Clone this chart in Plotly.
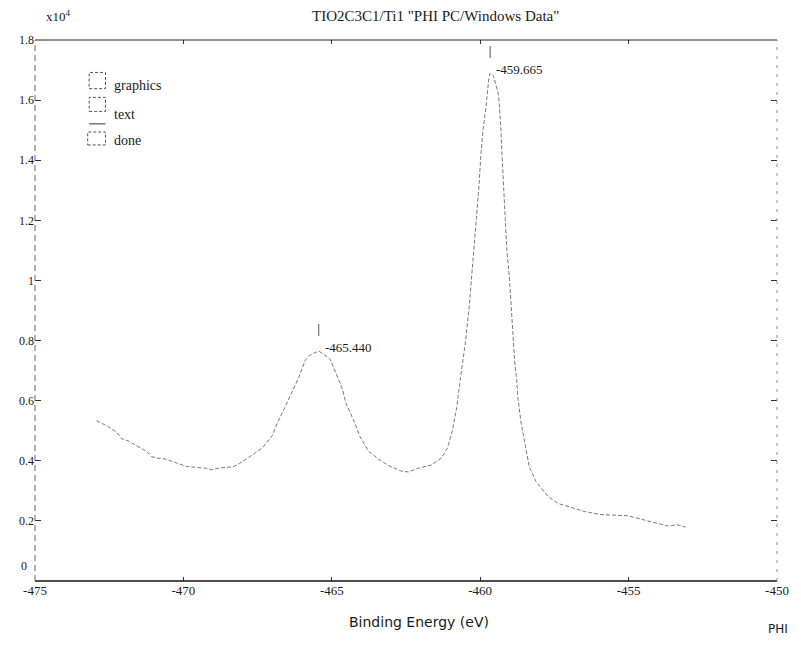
import plotly.graph_objects as go

# Ti 2p region scan: binding energy (eV) vs counts (x10^4)
binding_energy = [
    -472.93, -472.59, -472.26, -472.08, -471.86, -471.52, -471.24, -471.07,
    -470.90, -470.62, -470.23, -469.89, -469.56, -469.22, -469.05, -468.78,
    -468.33, -468.11, -467.67, -467.34, -467.01, -466.80, -466.58, -466.32,
    -466.10, -465.89, -465.73, -465.44, -465.28, -465.05, -464.82, -464.64,
    -464.53, -464.23, -464.06, -463.77, -463.43, -463.09, -462.64, -462.42,
    -462.09, -461.64, -461.31, -461.10, -460.94, -460.79, -460.69, -460.59,
    -460.49, -460.37, -460.27, -460.21, -460.12, -460.05, -459.97, -459.90,
    -459.81, -459.76, -459.71, -459.665, -459.55, -459.38, -459.31, -459.26,
    -459.17, -459.10, -459.02, -458.95, -458.90, -458.84, -458.77, -458.73,
    -458.63, -458.47, -458.35, -458.12, -457.72, -457.38, -456.93, -456.48,
    -455.93, -455.48, -455.03, -454.59, -454.13, -453.69, -453.35, -453.08,
]
intensity = [
    0.533, 0.517, 0.496, 0.474, 0.466, 0.447, 0.431, 0.414,
    0.409, 0.406, 0.393, 0.381, 0.378, 0.375, 0.370, 0.376,
    0.380, 0.391, 0.420, 0.443, 0.483, 0.533, 0.578, 0.635,
    0.680, 0.736, 0.752, 0.765, 0.755, 0.737, 0.682, 0.638,
    0.593, 0.527, 0.482, 0.433, 0.406, 0.384, 0.365, 0.363,
    0.375, 0.386, 0.409, 0.443, 0.499, 0.578, 0.656, 0.723,
    0.801, 0.913, 1.036, 1.114, 1.209, 1.304, 1.427, 1.505,
    1.572, 1.628, 1.672, 1.690, 1.680, 1.617, 1.517, 1.406,
    1.205, 1.099, 1.016, 0.915, 0.826, 0.732, 0.670, 0.609,
    0.531, 0.437, 0.381, 0.331, 0.282, 0.258, 0.244, 0.231,
    0.221, 0.219, 0.217, 0.206, 0.194, 0.183, 0.187, 0.179,
]

peak_energies = [-465.44, -459.665]
peak_labels = ["-465.440", "-459.665"]

x_ticks = [-475, -470, -465, -460, -455, -450]
x_tick_labels = ["-475", "-470", "-465", "-460", "-455", "-450"]
y_ticks = [0.2, 0.4, 0.6, 0.8, 1.0, 1.2, 1.4, 1.6, 1.8]
y_tick_labels = ["0.2", "0.4", "0.6", "0.8", "1", "1.2", "1.4", "1.6", "1.8"]
y_origin_label = "0"

menu_items = ["graphics", "text", "done"]

SERIF = "Liberation Serif"
SANS = "DejaVu Sans"
INK = "#1a1a1a"

fig = go.Figure()
fig.add_trace(go.Scatter(
    x=binding_energy, y=intensity, mode="lines",
    line=dict(color="#7a7a7a", width=1, dash="4px,2px"),
    hoverinfo="x+y", showlegend=False,
))

annotations = []
shapes = []

# peak markers with their binding-energy labels
for pe, lab in zip(peak_energies, peak_labels):
    py = intensity[binding_energy.index(pe)]
    shapes.append(dict(type="line", xref="x", yref="y", x0=pe, x1=pe,
                       y0=py + 0.05, y1=py + 0.09,
                       line=dict(color="#555", width=1)))
    annotations.append(dict(x=pe, y=py, xref="x", yref="y", text=lab,
                            showarrow=False, xanchor="left", yanchor="middle",
                            xshift=4, yshift=4,
                            font=dict(family=SERIF, size=13, color=INK)))

# frame: solid top/bottom, broken left/right
shapes += [
    dict(type="line", xref="paper", yref="paper", x0=0, x1=1, y0=0, y1=0,
         line=dict(color="#111", width=1.5)),
    dict(type="line", xref="paper", yref="paper", x0=0, x1=1, y0=1, y1=1,
         line=dict(color="#222", width=1)),
    dict(type="line", xref="paper", yref="paper", x0=0, x1=0, y0=0, y1=1,
         line=dict(color="#666", width=1, dash="6px,4px")),
    dict(type="line", xref="paper", yref="paper", x0=1, x1=1, y0=0, y1=1,
         line=dict(color="#888", width=1, dash="3px,6px")),
]

# title, multiplier, origin label, axis title and footer
annotations += [
    dict(x=0.54, y=1.062, xref="paper", yref="paper", xanchor="center",
         text='TIO2C3C1/Ti1 "PHI PC/Windows Data"', showarrow=False,
         font=dict(family=SERIF, size=15, color=INK)),
    dict(x=0.012, y=1.062, xref="paper", yref="paper", xanchor="left",
         text="x10<sup>4</sup>", showarrow=False,
         font=dict(family=SERIF, size=13, color=INK)),
    dict(x=-0.008, y=0.012, xref="paper", yref="paper", xanchor="right",
         text=y_origin_label, showarrow=False,
         font=dict(family=SERIF, size=12, color=INK)),
    dict(x=0.517, y=-0.094, xref="paper", yref="paper", xanchor="center",
         text="Binding Energy (eV)", showarrow=False,
         font=dict(family=SANS, size=14, color=INK)),
    dict(x=0.985, y=-0.105, xref="paper", yref="paper",
         text="PHI", showarrow=False, xanchor="left",
         font=dict(family=SANS, size=12, color=INK)),
]

# small menu boxes in the upper-left corner
menu_y = [0.934, 0.880, 0.832]
for label, yy in zip(menu_items, menu_y):
    annotations.append(dict(x=0.104, y=yy, xref="paper", yref="paper",
                            text=label, showarrow=False, xanchor="left",
                            font=dict(family=SERIF, size=14, color=INK)))
box_style = dict(color="#555", width=1, dash="3px,2px")
shapes += [
    dict(type="rect", xref="paper", yref="paper", x0=0.073, x1=0.095,
         y0=0.910, y1=0.940, line=box_style),
    dict(type="rect", xref="paper", yref="paper", x0=0.073, x1=0.095,
         y0=0.868, y1=0.894, line=box_style),
    dict(type="line", xref="paper", yref="paper", x0=0.073, x1=0.095,
         y0=0.845, y1=0.845, line=dict(color="#333", width=1)),
    dict(type="rect", xref="paper", yref="paper", x0=0.071, x1=0.095,
         y0=0.806, y1=0.830, line=box_style),
]

fig.update_layout(
    width=801, height=651,
    margin=dict(l=35, r=19, t=40, b=70),
    paper_bgcolor="white", plot_bgcolor="white",
    showlegend=False,
    annotations=annotations, shapes=shapes,
    xaxis=dict(range=[-475, -450], tickvals=x_ticks, ticktext=x_tick_labels,
               showgrid=False, zeroline=False, showline=False, mirror="ticks",
               ticks="inside", ticklen=4, tickcolor="#333",
               tickfont=dict(family=SERIF, size=13, color=INK)),
    yaxis=dict(range=[0, 1.8], tickvals=y_ticks, ticktext=y_tick_labels,
               showgrid=False, zeroline=False, showline=False, mirror="ticks",
               ticks="inside", ticklen=6, tickcolor="#333",
               tickfont=dict(family=SERIF, size=12, color=INK)),
)

fig.write_html("out.html")
